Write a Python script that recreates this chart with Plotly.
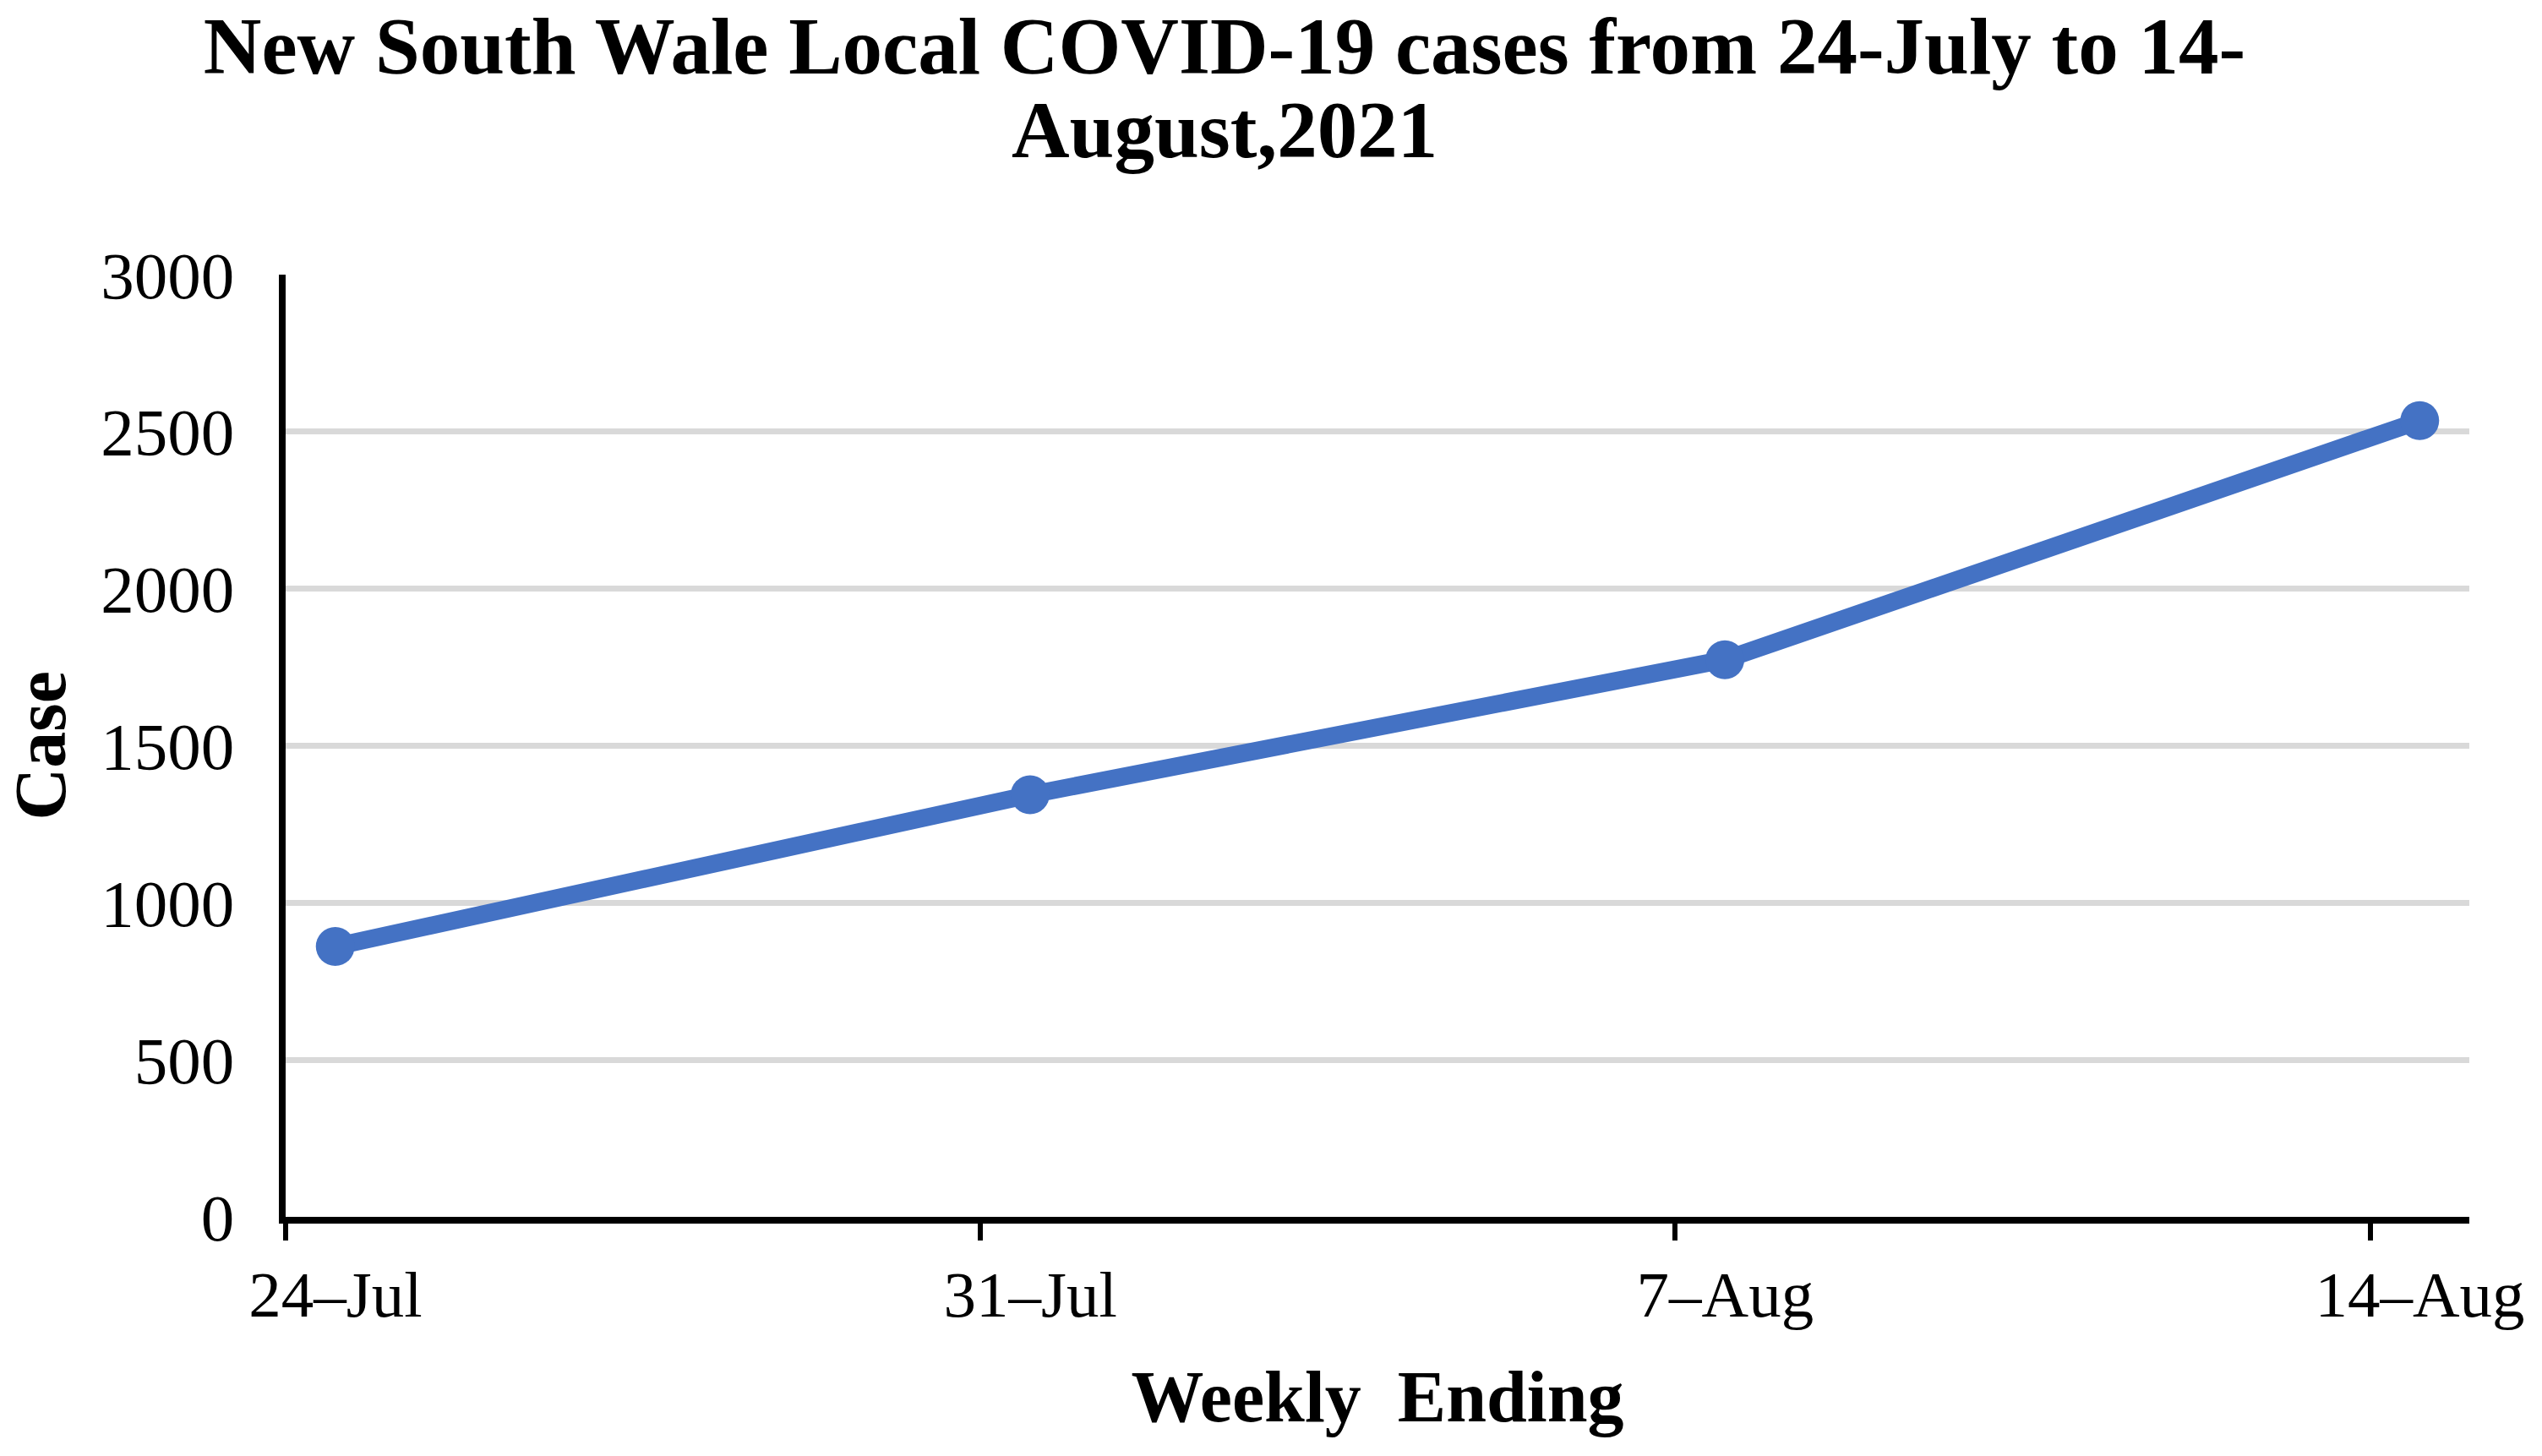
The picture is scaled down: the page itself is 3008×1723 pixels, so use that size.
import plotly.graph_objects as go
import pandas as pd

# ---- data ----
week_ending = ["2021-07-24", "2021-07-31", "2021-08-07", "2021-08-14"]
tick_labels = ["24–Jul", "31–Jul", "7–Aug", "14–Aug"]
cases = [861, 1344, 1774, 2535]

title_line1 = "New South Wale Local COVID-19 cases from 24-July to 14-"
title_line2 = "August,2021"
x_title = "Weekly  Ending"
y_title = "Case"

SERIF = "Liberation Serif, Times New Roman, serif"
BLUE = "#4472C4"
GRID = "#D9D9D9"

W, H = 3008, 1723
ML, MR, MT, MB = 338, 86, 325, 283

x_start = pd.Timestamp(week_ending[0])
x_end = pd.Timestamp(week_ending[-1]) + pd.Timedelta(days=1)
x_range = [x_start.strftime("%Y-%m-%d"), x_end.strftime("%Y-%m-%d")]
n_days = (x_end - x_start).days
# labels sit at the middle of each day (Excel-style date axis), tick marks at day starts
half_day_px = int(round((W - ML - MR) / n_days / 2))

fig = go.Figure()
fig.add_trace(go.Scatter(
    x=week_ending, y=cases,
    xperiod=86400000, xperiodalignment="middle",
    mode="lines+markers",
    line=dict(color=BLUE, width=21),
    marker=dict(color=BLUE, size=46),
    showlegend=False,
))

title_font = dict(family=SERIF, size=95, color="black", weight="bold")
plot_h = H - MT - MB

fig.update_layout(
    width=W, height=H,
    paper_bgcolor="white", plot_bgcolor="white",
    margin=dict(l=ML, r=MR, t=MT, b=MB),
    font=dict(family=SERIF, color="black"),
    title=dict(
        text=title_line1,
        font=title_font,
        x=0.4817, xref="container", xanchor="center",
        y=1 - 54 / H, yref="container", yanchor="middle",
    ),
    xaxis=dict(
        type="date", range=x_range,
        tickvals=week_ending, ticktext=tick_labels,
        ticklabelshift=half_day_px, ticklabelstandoff=-2,
        ticks="outside", ticklen=20, tickwidth=6, tickcolor="black",
        tickfont=dict(family=SERIF, size=77, color="black"),
        showline=True, linecolor="black", linewidth=8,
        showgrid=False, zeroline=False,
        title=dict(text=x_title, font=dict(family=SERIF, size=86, color="black", weight="bold"), standoff=50),
    ),
    yaxis=dict(
        range=[0, 3000], dtick=500, tick0=0,
        showgrid=True, gridcolor=GRID, gridwidth=7,
        showline=True, linecolor="black", linewidth=8,
        ticks="", zeroline=False,
        tickfont=dict(family=SERIF, size=79, color="black"),
        ticklabelstandoff=37,
        title=dict(text=y_title, font=dict(family=SERIF, size=86, color="black", weight="bold"), standoff=36),
    ),
)

# second line of the title (kept as its own text for tighter line spacing)
fig.add_annotation(
    text=title_line2, font=title_font, showarrow=False,
    xref="paper", x=(0.4817 * W - ML) / (W - ML - MR), xanchor="center",
    yref="paper", y=(plot_h + MT - 154) / plot_h, yanchor="middle",
)

fig.write_html("out.html", config={"displayModeBar": False},
               post_script="document.body.style.margin='0';")
